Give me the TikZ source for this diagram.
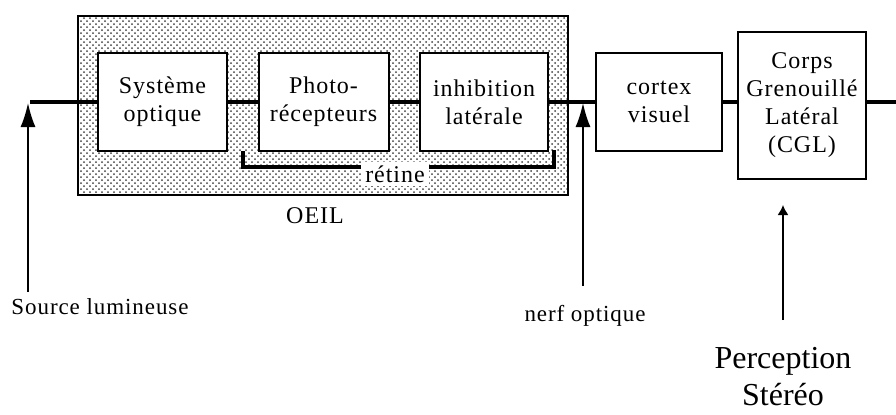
\documentclass[tikz,border=0pt]{standalone}
\usepackage{fontspec}
\setmainfont{Liberation Serif}[LetterSpace=4]
\newfontfamily\plainserif{Liberation Serif}
\usetikzlibrary{arrows.meta,patterns}

\tikzset{
  blk/.style={draw, line width=1pt, fill=white, align=center, inner sep=0pt,
    minimum height=49pt},
  flow/.style={line width=2pt},
  ptr/.style={line width=0.8pt, -{Latex[length=12pt,width=7.5pt]}},
  shortptr/.style={line width=0.8pt, -{Latex[length=5pt,width=5.5pt]}},
  lbl/.style={inner sep=0pt},
  small/.style={font=\fontsize{11.5}{13}\selectfont},
}

\begin{document}
\begin{tikzpicture}[x=0.5pt, y=-0.5pt, font=\fontsize{12}{14}\selectfont]
\useasboundingbox (0,0) rectangle (896,414);
% oeil
\fill [pattern=crosshatch dots, pattern color=black!75] (78,16) rectangle (568,195);
\draw [line width=1.2pt] (78,16) rectangle (568,195);
\node [lbl] (oeil) at (315,216) {OEIL};
% retine
\draw [flow] (243,151) |- (554,167) -- (554,150);
\node [lbl, fill=white, inner sep=2pt] (ret) at (395,174) {rétine};
% blocs
\node [blk, minimum width=64.5pt] (sys) at (162.5,102) {Système\\optique};
\node [blk, minimum width=65pt] (photo) at (323.5,102) {Photo-\\récepteurs};
\node [blk, minimum width=64pt] (inhib) at (484,102) {inhibition\\latérale};
\node [blk, minimum width=63pt] (cortex) at (659,102) {cortex\\visuel};
\node [blk, minimum width=64pt, minimum height=73.5pt] (cgl) at (802,105.5)
  {Corps\\Grenouillé\\Latéral\\(CGL)};
% ligne principale
\coordinate (in) at (30,102);
\coordinate (out) at (896,102);
\draw [flow] (in) -- (sys.west);
\draw [flow] (sys.east) -- (photo.west);
\draw [flow] (photo.east) -- (inhib.west);
\draw [flow] (inhib.east) -- (cortex.west);
\draw [flow] (cortex.east) -- (cortex.east -| cgl.west);
\draw [flow] (cgl.east |- out) -- (out);
% entrees
\node [lbl, small] (src) at (100,307) {Source lumineuse};
\coordinate (srcTail) at (28,292);
\coordinate (srcHead) at (28,103);
\draw [ptr] (srcTail) -- (srcHead);
\node [lbl, small] (nerf) at (585,316) {nerf optique};
\coordinate (nerfTail) at (583,286);
\coordinate (nerfHead) at (583,103);
\draw [ptr] (nerfTail) -- (nerfHead);
\node [lbl, align=center, font=\plainserif\fontsize{16}{18.5}\selectfont] (stereo) at (783,377)
  {Perception\\Stéréo};
\coordinate (cglTail) at (783,320);
\coordinate (cglHead) at (783,205);
\draw [shortptr] (cglTail) -- (cglHead);
\end{tikzpicture}
\end{document}
